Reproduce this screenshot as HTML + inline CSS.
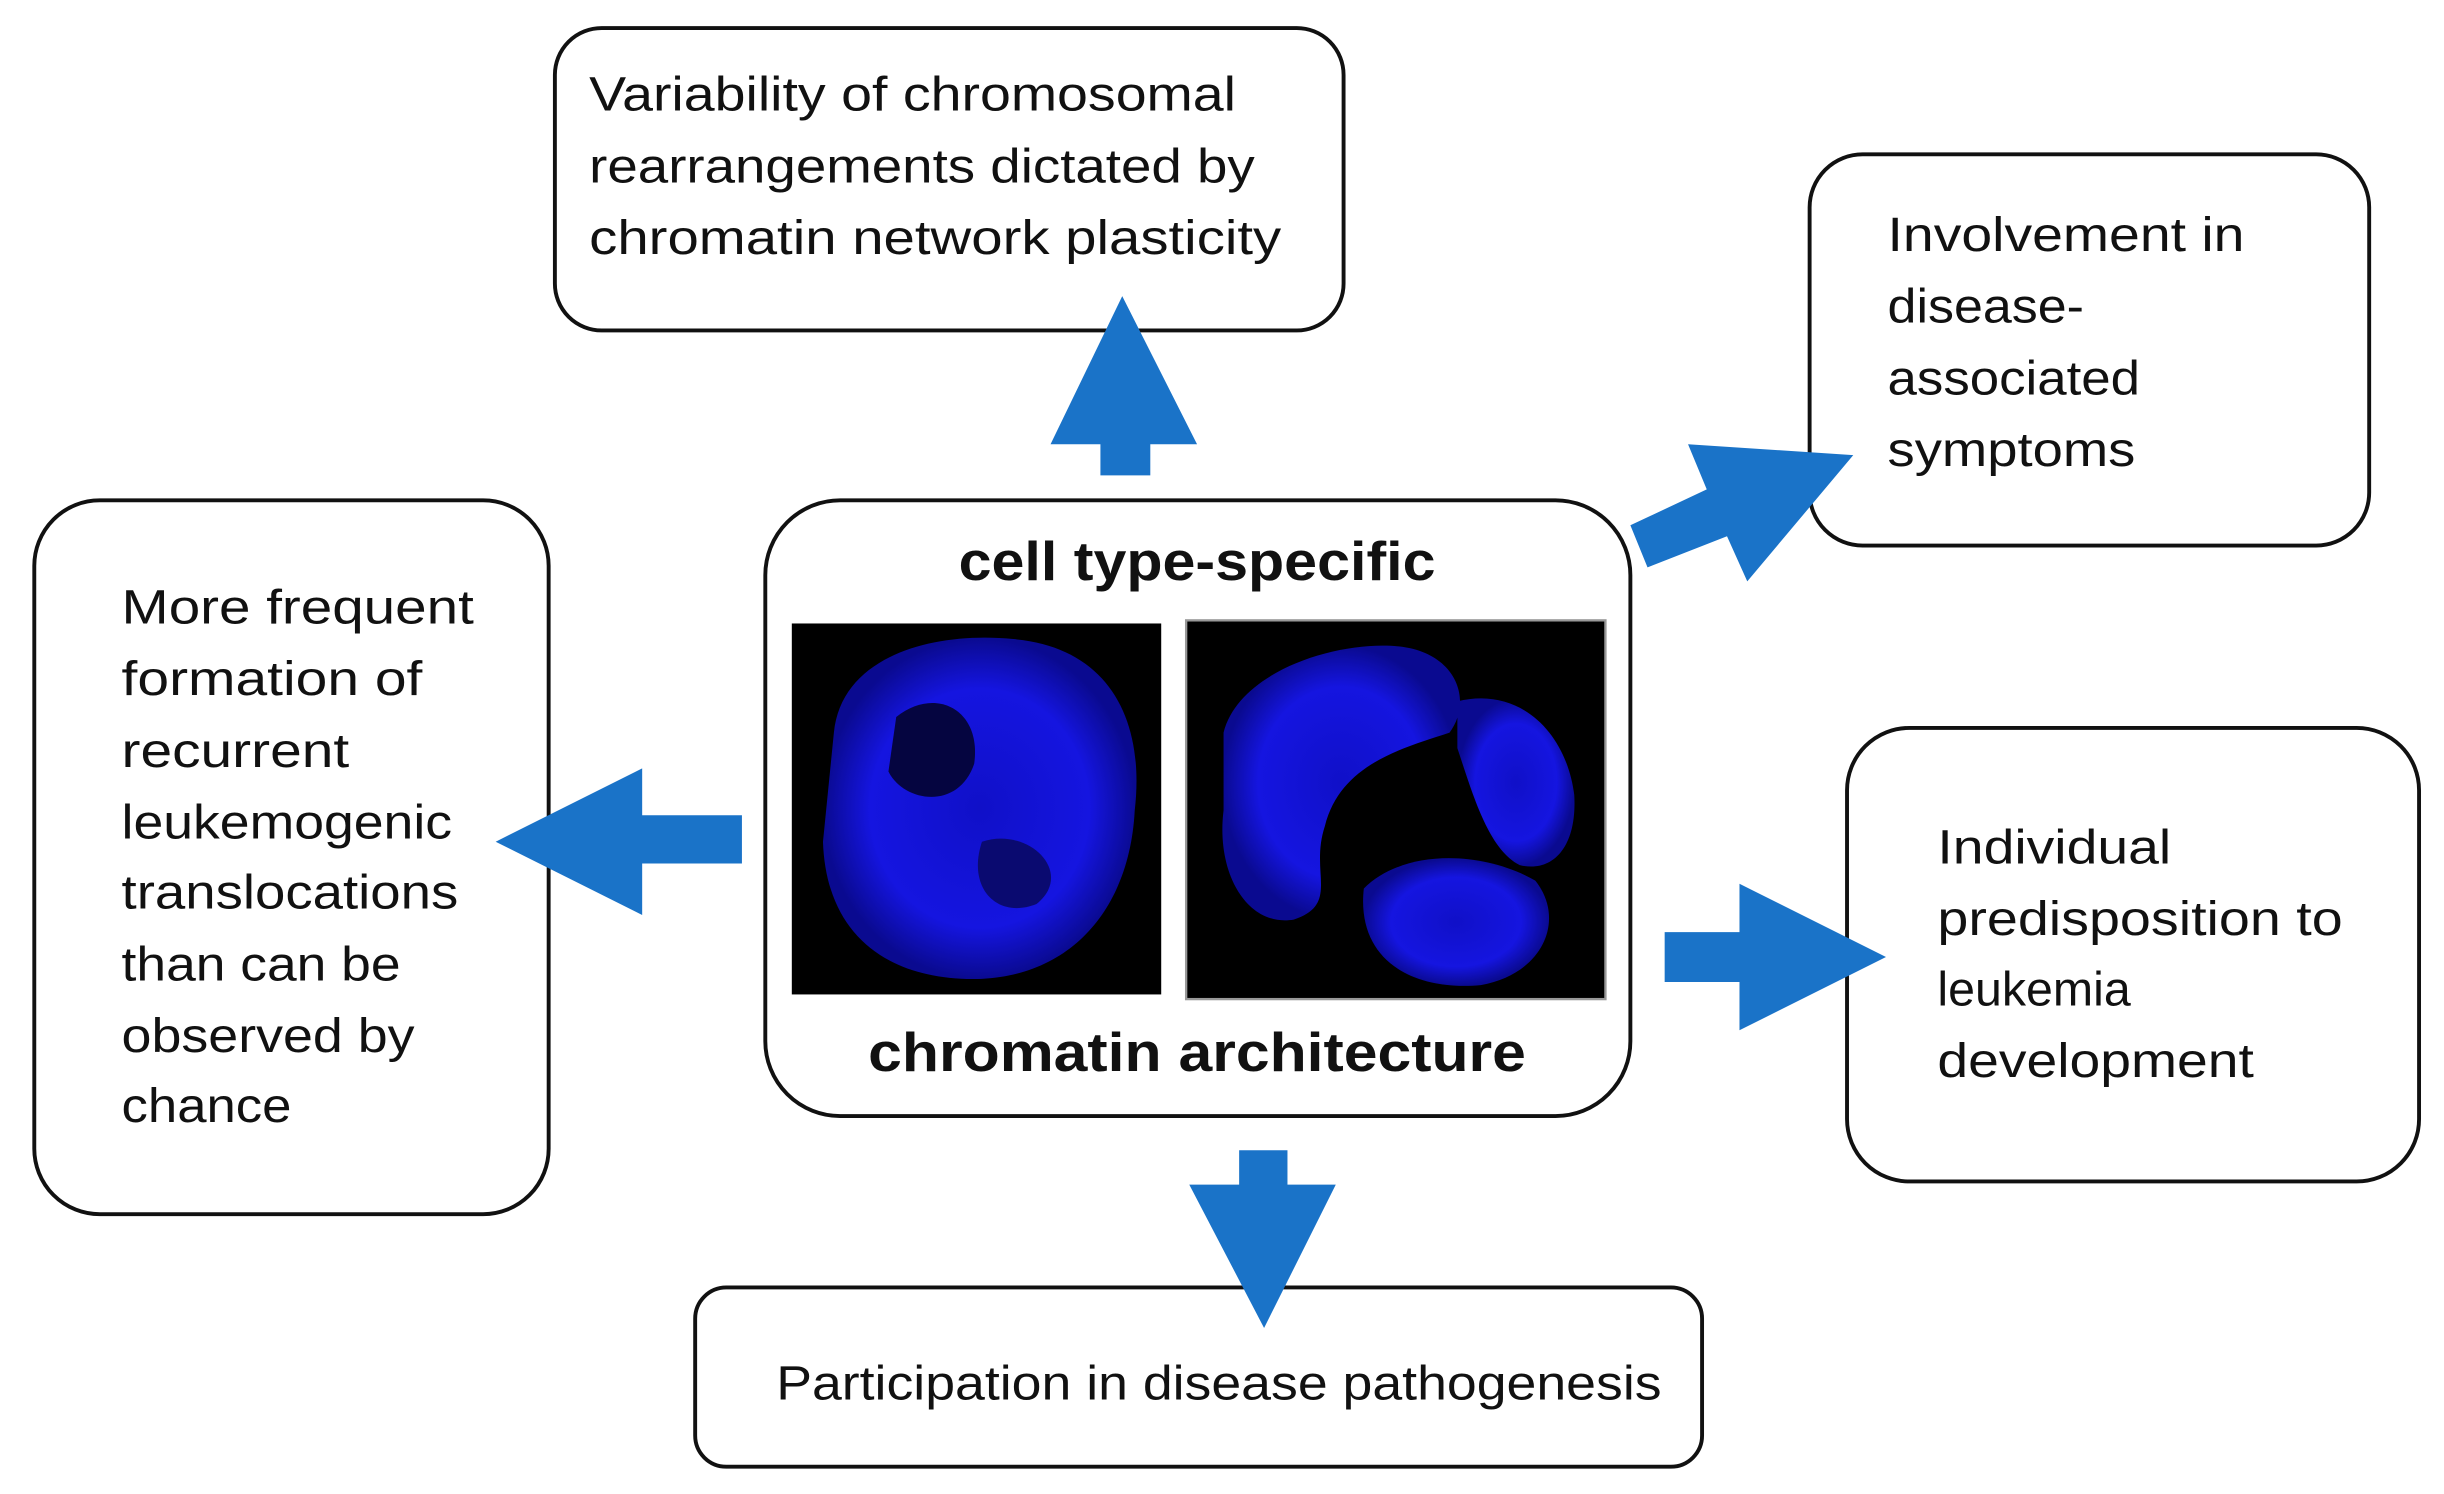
<!DOCTYPE html>
<html><head><meta charset="utf-8"><style>
html,body{margin:0;padding:0;background:#fff;}
svg{display:block;}
text{font-family:"Liberation Sans","DejaVu Sans",sans-serif;fill:#111;}
</style></head><body>
<svg width="2444" height="1494" viewBox="0 0 1568 958.5" xmlns="http://www.w3.org/2000/svg">
<defs>
<radialGradient id="g1" cx="50%" cy="50%" r="50%"><stop offset="0" stop-color="#1010c8"/><stop offset="0.7" stop-color="#1515e0"/><stop offset="1" stop-color="#0a0a90"/></radialGradient>
</defs>
<g fill="none" stroke="#111" stroke-width="2.5">
<rect x="356" y="18" width="506" height="194" rx="30"/>
<rect x="1161" y="99" width="359" height="251" rx="34"/>
<rect x="22" y="321" width="330" height="458" rx="42"/>
<rect x="491" y="321" width="555" height="395" rx="48"/>
<rect x="1185" y="467" width="367" height="291" rx="40"/>
<rect x="446" y="826" width="646" height="115" rx="20"/>
</g>
<g font-size="31">
<text x="378" y="71" textLength="415" lengthAdjust="spacingAndGlyphs">Variability of chromosomal</text>
<text x="378" y="117" textLength="427" lengthAdjust="spacingAndGlyphs">rearrangements dictated by</text>
<text x="378" y="163" textLength="444" lengthAdjust="spacingAndGlyphs">chromatin network plasticity</text>
<text x="1211" y="161" textLength="229" lengthAdjust="spacingAndGlyphs">Involvement in</text>
<text x="1211" y="207" textLength="126" lengthAdjust="spacingAndGlyphs">disease-</text>
<text x="1211" y="253" textLength="162" lengthAdjust="spacingAndGlyphs">associated</text>
<text x="1211" y="299" textLength="159" lengthAdjust="spacingAndGlyphs">symptoms</text>
<text x="78" y="400" textLength="226" lengthAdjust="spacingAndGlyphs">More frequent</text>
<text x="78" y="446" textLength="193" lengthAdjust="spacingAndGlyphs">formation of</text>
<text x="78" y="492" textLength="146" lengthAdjust="spacingAndGlyphs">recurrent</text>
<text x="78" y="538" textLength="212" lengthAdjust="spacingAndGlyphs">leukemogenic</text>
<text x="78" y="583" textLength="216" lengthAdjust="spacingAndGlyphs">translocations</text>
<text x="78" y="629" textLength="179" lengthAdjust="spacingAndGlyphs">than can be</text>
<text x="78" y="675" textLength="188" lengthAdjust="spacingAndGlyphs">observed by</text>
<text x="78" y="720" textLength="109" lengthAdjust="spacingAndGlyphs">chance</text>
<text x="1243" y="554" textLength="150" lengthAdjust="spacingAndGlyphs">Individual</text>
<text x="1243" y="600" textLength="260" lengthAdjust="spacingAndGlyphs">predisposition to</text>
<text x="1243" y="645">leukemia</text>
<text x="1243" y="691" textLength="203" lengthAdjust="spacingAndGlyphs">development</text>
<text x="498" y="898" textLength="568" lengthAdjust="spacingAndGlyphs">Participation in disease pathogenesis</text>
</g>
<g font-size="35" font-weight="bold">
<text x="615" y="372" textLength="306" lengthAdjust="spacingAndGlyphs">cell type-specific</text>
<text x="557" y="687" textLength="422" lengthAdjust="spacingAndGlyphs">chromatin architecture</text>
</g>
<rect x="508" y="400" width="237" height="238" fill="#000"/>
<path d="M535 470 C540 420 600 405 650 410 C710 415 735 460 728 520 C725 580 690 625 630 628 C570 630 530 600 528 540 Z" fill="url(#g1)"/>
<path d="M575 460 C600 440 630 455 625 490 C615 520 580 515 570 495 Z" fill="#050540"/>
<path d="M630 540 C660 530 690 560 665 580 C640 590 620 570 630 540 Z" fill="#0a0a70"/>
<rect x="761" y="398" width="269" height="243" fill="#000" stroke="#999" stroke-width="1.5"/>
<path d="M785 470 C795 430 860 410 900 415 C935 420 945 450 930 470 C900 480 860 490 850 530 C840 560 860 580 830 590 C800 595 780 560 785 520 Z" fill="url(#g1)"/>
<path d="M935 450 C975 440 1005 470 1010 510 C1012 545 995 560 975 555 C955 545 945 510 935 480 Z" fill="url(#g1)"/>
<path d="M875 570 C900 545 950 545 985 565 C1005 590 990 625 950 632 C905 636 870 615 875 570 Z" fill="url(#g1)"/>
<g fill="#1a73c8">
<polygon points="706,305 738,305 738,285 768,285 720,190 674,285 706,285"/>
<polygon points="476,523 476,554 412,554 412,587 318,540 412,493 412,523"/>
<polygon points="795,738 826,738 826,760 857,760 811,852 763,760 795,760"/>
<polygon points="1068,598 1116,598 1116,567 1210,614 1116,661 1116,630 1068,630"/>
<polygon points="1046,337 1095,314 1083,285 1189,292 1121,373 1108,344 1057,364"/>
</g>
</svg>
</body></html>
